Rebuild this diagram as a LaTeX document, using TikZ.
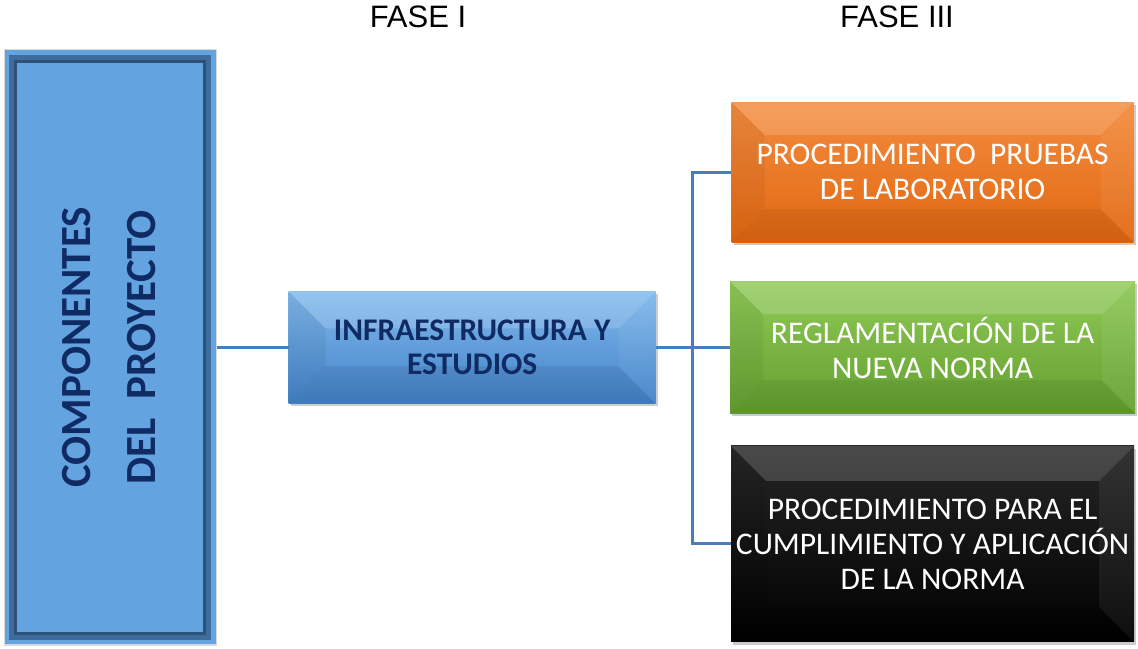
\documentclass[tikz,border=0pt]{standalone}
\usepackage{graphicx}
\usepackage{fontspec}
\setmainfont{Carlito}
\newfontfamily\arialfont{Liberation Sans}
\usepackage{tikz}
\usetikzlibrary{positioning, calc, shadows}
\definecolor{comp_blue}{RGB}{99,164,224}
\definecolor{comp_band}{RGB}{62,108,156}
\definecolor{comp_edge}{RGB}{44,82,122}
\definecolor{infra_top}{RGB}{128,185,236}
\definecolor{infra_bottom}{RGB}{66,130,200}
\definecolor{title_navy}{RGB}{16,43,99}
\definecolor{orange_top}{RGB}{243,140,62}
\definecolor{orange_bottom}{RGB}{226,104,18}
\definecolor{green_top}{RGB}{144,202,88}
\definecolor{green_bottom}{RGB}{100,160,48}
\definecolor{link_blue}{RGB}{74,126,187}
\tikzset{
  bevel/.style={
      path picture={
          \coordinate (sw) at (path picture bounding box.south west);
          \coordinate (ne) at (path picture bounding box.north east);
          \coordinate (nw) at (sw |- ne);
          \coordinate (se) at (ne |- sw);
          \fill[white, opacity=.16] (nw) -- (ne) -- ($(ne)+(-#1,-#1)$) -- ($(nw)+(#1,-#1)$) -- cycle;
          \fill[black, opacity=.07] (sw) -- (se) -- ($(se)+(-#1,#1)$) -- ($(sw)+(#1,#1)$) -- cycle;
          \fill[black, opacity=.05] (nw) -- (sw) -- ($(sw)+(#1,#1)$) -- ($(nw)+(#1,-#1)$) -- cycle;
          \fill[white, opacity=.06] (ne) -- (se) -- ($(se)+(-#1,#1)$) -- ($(ne)+(-#1,-#1)$) -- cycle;
        }
    },
  frame_bevel/.style={
      path picture={
          \coordinate (sw) at (path picture bounding box.south west);
          \coordinate (ne) at (path picture bounding box.north east);
          \draw[comp_band, line width=8pt] ($(sw)+(9pt,9pt)$) rectangle ($(ne)+(-9pt,-9pt)$);
          \draw[comp_edge, line width=3pt] ($(sw)+(11.5pt,11.5pt)$) rectangle ($(ne)+(-11.5pt,-11.5pt)$);
        }
    },
  box_shadow/.style={
      drop shadow={shadow xshift=2pt, shadow yshift=-3pt, fill=black, opacity=.2}
    },
  comp_box/.style={
      rectangle, fill=comp_blue,
      draw=gray!30, line width=1pt,
      minimum width=212pt, minimum height=595pt,
      text=title_navy, inner sep=0pt,
      font=\bfseries\fontsize{43}{65}\selectfont,
      frame_bevel,
    },
  infra_box/.style={
      rectangle, top color=infra_top, bottom color=infra_bottom,
      minimum width=367pt, minimum height=112pt,
      text=title_navy, align=center, inner sep=0pt,
      font=\bfseries\fontsize{31.5}{34}\selectfont,
      box_shadow, bevel=37pt,
    },
  phase_box/.style={
      rectangle, text=white, align=center, inner sep=0pt,
      font=\fontsize{31.5}{35}\selectfont,
      box_shadow, bevel=33pt,
    },
  phase_label/.style={
      anchor=base,
      font=\arialfont\fontsize{31}{37}\selectfont,
    },
  link_line/.style={
      draw=link_blue, line width=3pt,
    },
}

\begin{document}
\begin{tikzpicture}[x=1pt, y=1pt]
      \useasboundingbox (0,0) rectangle (1138,648);
      \node[phase_label] (fase_one) at (418,620) {FASE I};
      \node[phase_label] (fase_three) at (897,620) {FASE III};
      \node[comp_box] (comp) at (110,300.5) {\rotatebox{90}{\begin{tabular}{@{}c@{}}COMPONENTES\\DEL\ \ PROYECTO\end{tabular}}};
      \node[infra_box, right=72pt of comp] (infra) {INFRAESTRUCTURA Y\\ ESTUDIOS};
      \node[phase_box, right=74pt of infra, minimum width=405pt, minimum height=132pt,
            top color=green_top, bottom color=green_bottom] (new_norm) {REGLAMENTACIÓN DE LA\\ NUEVA NORMA};
      \node[phase_box, above=39pt of new_norm, minimum width=402pt, minimum height=140pt,
            top color=orange_top, bottom color=orange_bottom] (lab_tests) {PROCEDIMIENTO\ \ PRUEBAS\\ DE LABORATORIO};
      \node[phase_box, below=32pt of new_norm, minimum width=403pt, minimum height=196pt,
            top color=black!85, bottom color=black, bevel=35pt] (apply_norm) {PROCEDIMIENTO PARA EL\\ CUMPLIMIENTO Y APLICACIÓN\\ DE LA NORMA};
      \coordinate (bus) at ($(infra.east)!0.5!(new_norm.west)$);
      \draw[link_line] (comp.east) -- (infra.west);
      \draw[link_line] (infra.east) -- (new_norm.west);
      \draw[link_line] (lab_tests.west) -| (bus) |- (apply_norm.west);
    \end{tikzpicture}
\end{document}
